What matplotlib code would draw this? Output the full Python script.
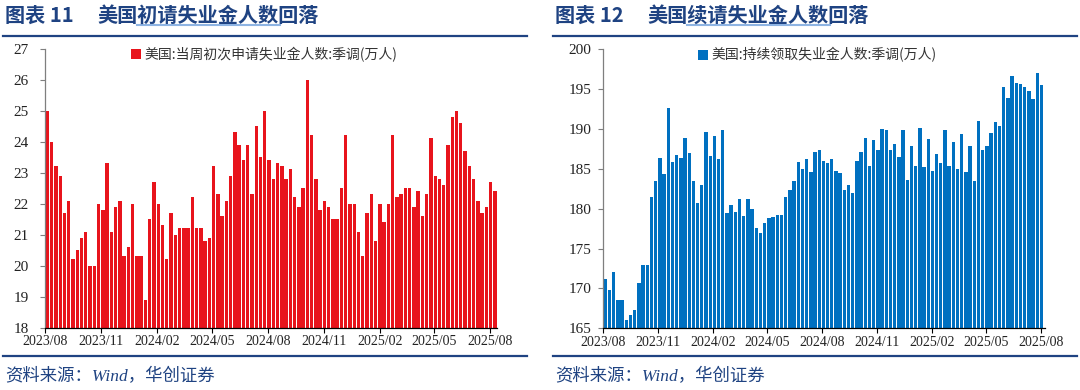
import matplotlib
matplotlib.use('Agg')
import matplotlib.pyplot as plt
import matplotlib.dates as mdates
import pandas as pd
from matplotlib.lines import Line2D
from matplotlib.patches import Patch

# 美国当周初次申请失业金人数:季调(万人), weekly from 2023-08-05
initial_claims = [
    25.0, 24.0, 23.2, 22.9, 21.7, 22.1, 20.2, 20.5, 20.9, 21.1,
    20.0, 20.0, 22.0, 21.8, 23.3, 21.1, 21.9, 22.1, 20.3, 20.6,
    22.0, 20.3, 20.3, 18.9, 21.5, 22.7, 22.0, 21.3, 20.2, 21.7,
    21.0, 21.2, 21.2, 21.2, 22.2, 21.2, 21.2, 20.8, 20.9, 23.2,
    22.3, 21.6, 22.1, 22.9, 24.3, 23.9, 23.4, 23.9, 22.3, 24.5,
    23.5, 25.0, 23.4, 22.8, 23.3, 23.2, 22.8, 23.1, 22.2, 21.9,
    22.5, 26.0, 24.2, 22.8, 21.8, 22.1, 21.9, 21.5, 21.5, 22.5,
    24.2, 22.0, 22.0, 21.1, 20.3, 21.7, 22.3, 20.8, 22.0, 21.4,
    22.0, 24.2, 22.2, 22.3, 22.5, 22.5, 21.9, 22.4, 21.6, 22.3,
    24.1, 22.9, 22.8, 22.6, 23.9, 24.8, 25.0, 24.6, 23.7, 23.2,
    22.8, 22.1, 21.7, 21.9, 22.7, 22.4,
]

# 美国持续领取失业金人数:季调(万人), weekly from 2023-08-05
continuing_claims = [
    171.2, 169.8, 172.0, 168.6, 168.5, 166.0, 166.7, 167.3, 170.7, 172.9,
    172.9, 181.4, 183.5, 186.4, 184.3, 192.6, 185.8, 186.7, 186.3, 188.8,
    187.0, 183.4, 180.7, 183.0, 189.6, 186.6, 189.1, 186.2, 189.9, 179.5,
    180.5, 179.6, 181.2, 179.1, 181.2, 180.0, 177.6, 176.9, 178.2, 178.8,
    178.9, 179.2, 179.2, 181.5, 182.3, 183.4, 185.8, 184.9, 186.2, 184.6,
    187.1, 187.3, 186.0, 185.7, 186.2, 184.7, 184.5, 182.3, 182.9, 182.0,
    186.0, 187.1, 188.9, 185.4, 188.6, 187.4, 190.0, 189.9, 187.3, 188.1,
    186.5, 189.9, 183.6, 187.8, 185.4, 190.1, 185.2, 188.7, 184.7, 186.9,
    185.7, 189.8, 185.3, 188.3, 184.9, 189.4, 184.6, 187.9, 183.5, 191.0,
    187.4, 187.8, 189.5, 190.9, 190.4, 195.3, 193.8, 196.6, 195.7, 195.6,
    195.3, 194.7, 193.7, 197.0, 195.5,
]

initial_dates = pd.date_range('2023-08-05', periods=len(initial_claims), freq='7D')
continuing_dates = pd.date_range('2023-08-05', periods=len(continuing_claims), freq='7D')
tick_dates = pd.date_range('2023-08-01', '2025-08-01', freq='3MS')
tick_labels = [d.strftime('%Y/%m') for d in tick_dates]

titles = [('图表 11', '美国', '初请失业金人数', '回落'),
          ('图表 12', '美国', '续请失业金人数', '回落')]
legend_labels = ['美国:当周初次申请失业金人数:季调(万人)',
                 '美国:持续领取失业金人数:季调(万人)']

RED = '#E8141C'
BLUE = '#0070C0'
NAVY = '#1F4382'
CJK = ['Noto Sans CJK SC', 'DejaVu Sans']
SERIF = ['Liberation Serif', 'Noto Sans CJK SC']

fig = plt.figure(figsize=(10.8, 3.9), dpi=100)
W, H = 1080, 390


def fx(px):
    return px / W


def fy(py):
    return 1 - py / H


def draw_panel(ax, dates, values, color, ylim, yticks, label, xmax_days, ypad):
    x = mdates.date2num(dates)
    ax.bar(x, values, width=5.6, color=color, edgecolor='none')
    ax.set_ylim(*ylim)
    ax.set_yticks(yticks)
    ax.set_xlim(mdates.date2num(pd.Timestamp('2023-08-01')),
                x[-1] + xmax_days)
    ax.set_xticks(mdates.date2num(tick_dates))
    ax.set_xticklabels(tick_labels)
    for s in ['top', 'right']:
        ax.spines[s].set_visible(False)
    ax.spines['left'].set_color('#7F7F7F')
    ax.spines['bottom'].set_color('#000000')
    ax.spines['left'].set_linewidth(0.9)
    ax.spines['bottom'].set_linewidth(0.9)
    ax.tick_params(axis='y', direction='out', length=3.5, width=0.8,
                   color='#7F7F7F', pad=ypad, labelsize=11)
    ax.tick_params(axis='x', direction='out', length=3.5, width=0.8,
                   color='#000000', pad=2, labelsize=10)
    for t in ax.get_xticklabels() + ax.get_yticklabels():
        t.set_fontfamily(SERIF)
        t.set_color('#222222')
    handle = Patch(facecolor=color, edgecolor='none')
    ax.legend([handle], [label], loc='upper center', bbox_to_anchor=(0.485, 1.025),
              frameon=False, handlelength=0.7, handleheight=0.7,
              handletextpad=0.25, borderaxespad=0,
              prop={'family': CJK, 'size': 10}, labelcolor='#333333')


ax1 = fig.add_axes([fx(45), fy(327.7), fx(497 - 45), (327.7 - 48.5) / H])
draw_panel(ax1, initial_dates, initial_claims, RED, (18, 27),
           range(18, 28), legend_labels[0], 3.5, 8)

ax2 = fig.add_axes([fx(603), fy(328.3), fx(1045 - 603), (328.3 - 49) / H])
draw_panel(ax2, continuing_dates, continuing_claims, BLUE, (165, 200),
           range(165, 201, 5), legend_labels[1], 6, 5)

# titles, rules and footers
for off, (head, pre, mid, post) in zip([0, 550], titles):
    fig.text(fx(off + 5), fy(15), head, fontsize=14.5, fontweight='bold',
             color=NAVY, family=CJK, va='center', ha='left')
    fig.text(fx(off + 97), fy(15), pre + mid + post, fontsize=14.5,
             fontweight='bold', color=NAVY, family=CJK, va='center', ha='left')
    fig.add_artist(Line2D([fx(off + 137), fx(off + 280)], [fy(25), fy(25)],
                          color='#8EB4E3', lw=1.5))
    for yy in (35.5, 356):
        fig.add_artist(Line2D([fx(off + 3), fx(off + 527)], [fy(yy), fy(yy)],
                              color=NAVY, lw=1.6))
    fig.text(fx(off + 5), fy(377), '资料来源：Wind，华创证券', fontsize=12.5,
             style='italic', color=NAVY, family=['Liberation Serif', 'Noto Sans CJK SC'],
             va='center', ha='left')

fig.savefig('out.png', dpi=100)
